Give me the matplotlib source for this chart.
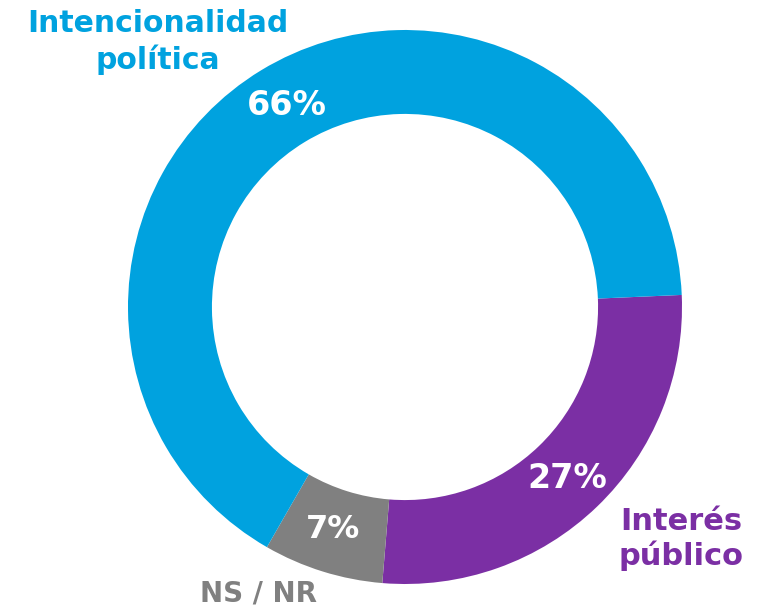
import matplotlib
matplotlib.use("Agg")
import matplotlib.pyplot as plt

categories = ["Interés\npúblico", "NS / NR", "Intencionalidad\npolítica"]
values = [27, 7, 66]
pct_labels = ["27%", "7%", "66%"]
colors = ["#7B2FA4", "#808080", "#00A2DF"]

W, H = 772, 610
cx, cy, R = 405, 307, 277

fig = plt.figure(figsize=(W / 100, H / 100), dpi=100)
ax = fig.add_axes([0, 0, 1, 1])

ax.pie(values, colors=colors, startangle=2.5, counterclock=False,
       radius=1.0, wedgeprops=dict(width=0.303, edgecolor="none"))

ax.set_xlim(-cx / R, (W - cx) / R)
ax.set_ylim(-(H - cy) / R, cy / R)
ax.set_aspect("equal")
ax.axis("off")

def d(px, py):
    return (px - cx) / R, (cy - py) / R

font = "DejaVu Sans"
# percentage labels
for (px, py), t, fs in [((567, 478), pct_labels[0], 24),
                        ((333, 530), pct_labels[1], 23),
                        ((287, 105), pct_labels[2], 24)]:
    x, y = d(px, py)
    ax.text(x, y, t, color="white", fontsize=fs, fontweight="bold",
            family=font, ha="center", va="center")

# category labels
x, y = d(158, 42)
ax.text(x, y, categories[2], color=colors[2], fontsize=21.5, fontweight="bold",
        family=font, ha="center", va="center", linespacing=1.3)
x, y = d(681, 539)
ax.text(x, y, categories[0], color=colors[0], fontsize=22, fontweight="bold",
        family=font, ha="center", va="center", linespacing=1.2)
x, y = d(258, 594)
ax.text(x, y, categories[1], color=colors[1], fontsize=20, fontweight="bold",
        family=font, ha="center", va="center")

fig.savefig("out.png", dpi=100)
